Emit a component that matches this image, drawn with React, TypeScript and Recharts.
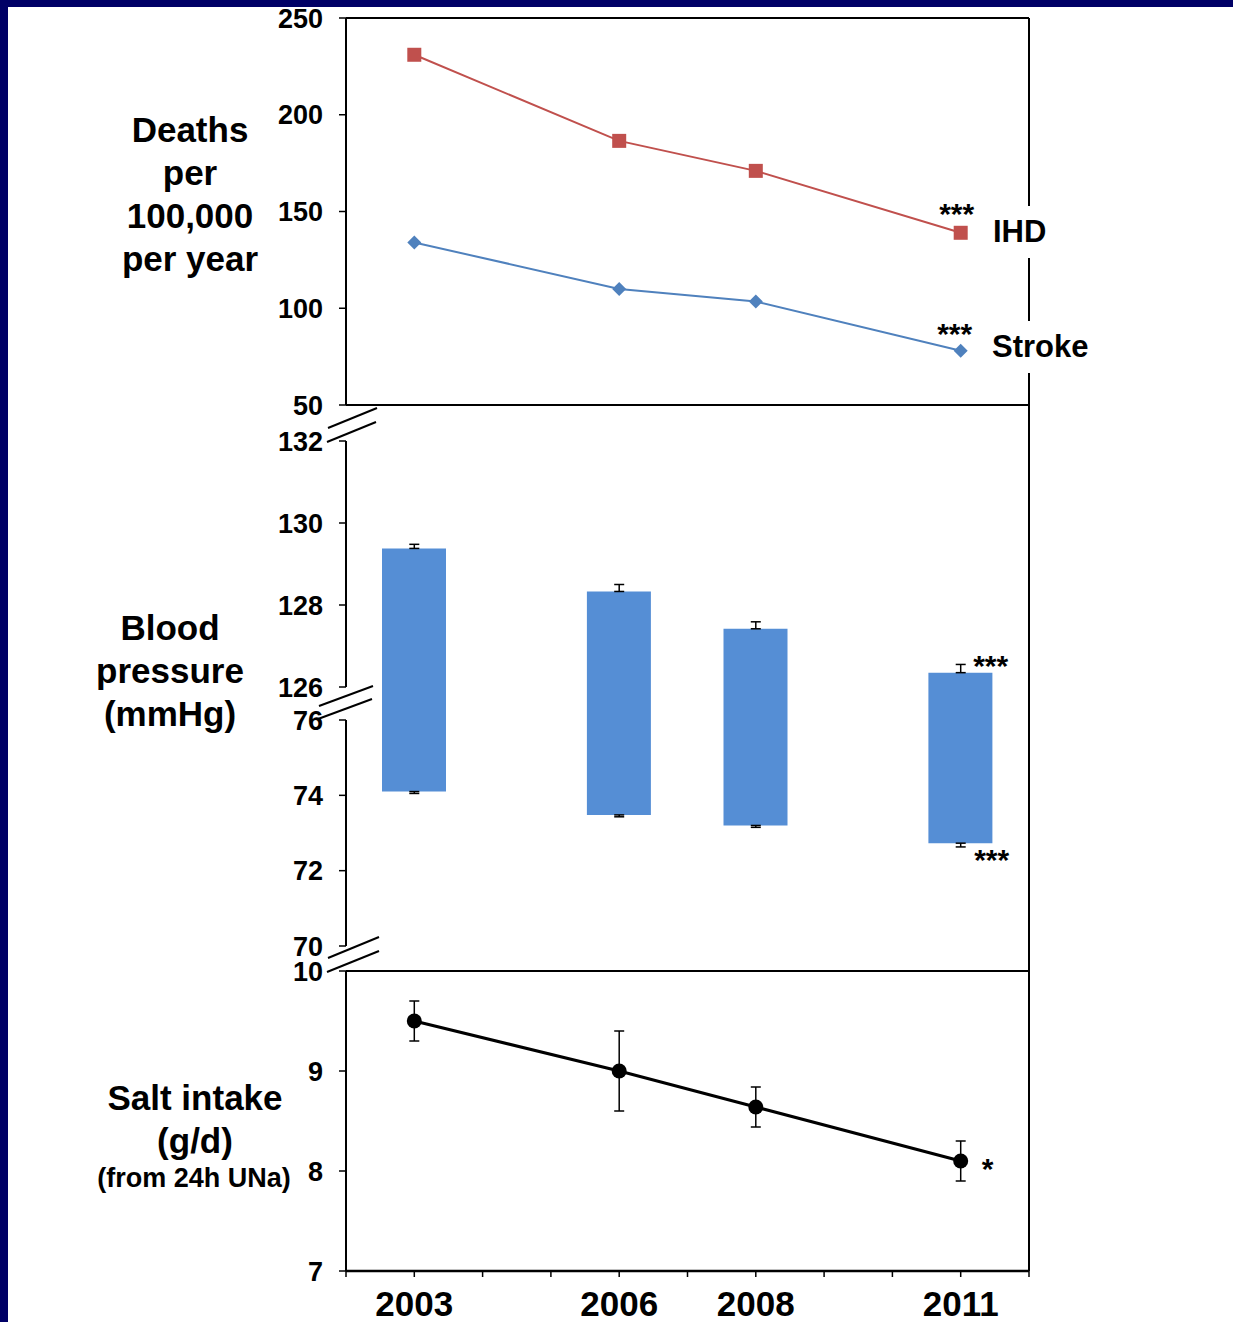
import React from 'react';
import {
  LineChart,
  Line,
  XAxis,
  YAxis,
  ReferenceLine,
  ComposedChart,
  Bar,
  ErrorBar,
  LabelList,
} from 'recharts';

const FONT = '"Liberation Sans", Arial, Helvetica, sans-serif';
const NAVY = '#000066';

// ---------- data ----------
const years = [2003, 2006, 2008, 2011];
const yearTicks = [2002, 2003, 2004, 2005, 2006, 2007, 2008, 2009, 2010, 2011, 2012];

const ihdDeaths = [231, 186.5, 171, 139];
const strokeDeaths = [134, 110, 103.5, 78];
const deathTicks = [50, 100, 150, 200, 250];
const sigDeaths = ['', '', '', '***'];

const systolicBP = [129.38, 128.33, 127.42, 126.35];
const systolicErr = [0.1, 0.17, 0.17, 0.2];
const diastolicBP = [74.1, 73.48, 73.2, 72.73];
const diastolicErr = [0.05, 0.05, 0.05, 0.1];
const bpTicks = [70, 72, 74, 76, 126, 128, 130, 132];
const sigBP = ['', '', '', '***'];

const saltIntake = [9.5, 9.0, 8.64, 8.1];
const saltErr = [0.2, 0.4, 0.2, 0.2];
const saltTicks = [7, 8, 9, 10];
const sigSalt = ['', '', '', '*'];

// ---------- broken BP axis mapping ----------
const BP_LOW_T0 = 25;
const BP_LOW_T1 = 251;
const BP_HIGH_T0 = 284;
const BP_HIGH_T1 = 530;
const bpScaleLow = (BP_LOW_T1 - BP_LOW_T0) / 6;
const bpScaleHigh = (BP_HIGH_T1 - BP_HIGH_T0) / 6;
const toT = (v: number) =>
  v >= 100 ? BP_HIGH_T0 + (v - 126) * bpScaleHigh : BP_LOW_T0 + (v - 70) * bpScaleLow;
const bpTickT = bpTicks.map(toT);
const bpTickLabel = (t: number) => {
  const i = bpTickT.findIndex((x) => Math.abs(x - t) < 0.01);
  return i >= 0 ? String(bpTicks[i]) : '';
};

const deathData = years.map((y, i) => ({
  year: y,
  ihd: ihdDeaths[i],
  stroke: strokeDeaths[i],
  sig: sigDeaths[i],
}));

const bpData = years.map((y, i) => ({
  year: y,
  range: [toT(diastolicBP[i]), toT(systolicBP[i])],
  sbpT: toT(systolicBP[i]),
  dbpT: toT(diastolicBP[i]),
  sbpErr: [0, systolicErr[i] * bpScaleHigh],
  dbpErr: [diastolicErr[i] * bpScaleLow, 0],
  sig: sigBP[i],
}));

const saltData = years.map((y, i) => ({
  year: y,
  salt: saltIntake[i],
  err: saltErr[i],
  sig: sigSalt[i],
}));

// ---------- helpers ----------
const tickStyle = { fill: '#000', fontSize: 27, fontWeight: 'bold' as const, fontFamily: FONT };

const sigLabel = (dx: number, dy: number) => (p: any) => {
  if (!p || !p.value) return null;
  return (
    <text
      x={Number(p.x) + dx}
      y={Number(p.y) + dy}
      textAnchor="middle"
      fontSize={30}
      fontWeight="bold"
      fontFamily={FONT}
      fill="#000"
    >
      {p.value}
    </text>
  );
};

const SquareDot = (props: any) => {
  const { cx, cy } = props;
  if (cx == null || cy == null) return null;
  return <rect x={cx - 7} y={cy - 7} width={14} height={14} fill="#C0504D" />;
};

const DiamondDot = (props: any) => {
  const { cx, cy } = props;
  if (cx == null || cy == null) return null;
  return (
    <polygon
      points={`${cx},${cy - 7} ${cx + 7},${cy} ${cx},${cy + 7} ${cx - 7},${cy}`}
      fill="#4F81BD"
    />
  );
};

const CircleDot = (props: any) => {
  const { cx, cy } = props;
  if (cx == null || cy == null) return null;
  return <circle cx={cx} cy={cy} r={7.5} fill="#000" />;
};

const W = 1233;
const RIGHT = 204;
const YW = 346;

const titleStyle: React.CSSProperties = {
  position: 'absolute',
  fontFamily: FONT,
  fontWeight: 'bold',
  fontSize: 35,
  lineHeight: '43px',
  textAlign: 'center',
  color: '#000',
  whiteSpace: 'nowrap',
};

const seriesLabelStyle: React.CSSProperties = {
  position: 'absolute',
  fontFamily: FONT,
  fontWeight: 'bold',
  fontSize: 31,
  height: 52,
  lineHeight: '52px',
  background: '#fff',
  color: '#000',
  padding: '0 6px',
  whiteSpace: 'nowrap',
};

export default function App() {
  return (
    <div
      style={{
        position: 'absolute',
        left: 0,
        top: 0,
        width: W,
        height: 1322,
        background: '#fff',
        overflow: 'hidden',
      }}
    >
      {/* Top chart: deaths */}
      <div style={{ position: 'absolute', left: 0, top: 0 }}>
        <LineChart width={W} height={420} data={deathData} margin={{ top: 18, right: RIGHT, bottom: 15, left: 0 }}>
          <XAxis dataKey="year" type="number" domain={[2002, 2012]} hide />
          <YAxis
            type="number"
            domain={[50, 250]}
            ticks={deathTicks}
            width={YW}
            tick={tickStyle}
            tickSize={7}
            tickMargin={16}
            tickLine={{ stroke: '#000', strokeWidth: 1.5 }}
            axisLine={{ stroke: '#000', strokeWidth: 2 }}
            interval={0}
          />
          <ReferenceLine y={250} stroke="#000" strokeWidth={2} />
          <ReferenceLine y={50} stroke="#000" strokeWidth={2} />
          <ReferenceLine x={2012} stroke="#000" strokeWidth={2} />
          <Line
            dataKey="ihd"
            stroke="#C0504D"
            strokeWidth={2}
            dot={<SquareDot />}
            isAnimationActive={false}
          >
            <LabelList dataKey="sig" content={sigLabel(-4, -9)} />
          </Line>
          <Line
            dataKey="stroke"
            stroke="#4F81BD"
            strokeWidth={2}
            dot={<DiamondDot />}
            isAnimationActive={false}
          >
            <LabelList dataKey="sig" content={sigLabel(-6, -7)} />
          </Line>
        </LineChart>
      </div>

      {/* Middle chart: blood pressure (broken axis) */}
      <div style={{ position: 'absolute', left: 0, top: 405 }}>
        <ComposedChart width={W} height={566} data={bpData} margin={{ top: 0, right: RIGHT, bottom: 0, left: 0 }}>
          <XAxis dataKey="year" type="number" domain={[2002, 2012]} hide />
          <YAxis
            type="number"
            domain={[0, 566]}
            ticks={bpTickT}
            tickFormatter={bpTickLabel}
            width={YW}
            tick={tickStyle}
            tickSize={7}
            tickMargin={16}
            tickLine={{ stroke: '#000', strokeWidth: 1.5 }}
            axisLine={false}
            interval={0}
            allowDataOverflow
          />
          <ReferenceLine
            segment={[
              { x: 2002, y: BP_HIGH_T0 },
              { x: 2002, y: BP_HIGH_T1 },
            ]}
            stroke="#000"
            strokeWidth={2}
          />
          <ReferenceLine
            segment={[
              { x: 2002, y: BP_LOW_T0 },
              { x: 2002, y: BP_LOW_T1 },
            ]}
            stroke="#000"
            strokeWidth={2}
          />
          <ReferenceLine x={2012} stroke="#000" strokeWidth={2} />
          <Bar dataKey="range" barSize={64} fill="#558ED5" isAnimationActive={false} />
          <Line dataKey="sbpT" stroke="none" dot={false} activeDot={false} isAnimationActive={false}>
            <ErrorBar dataKey="sbpErr" direction="y" width={5} stroke="#000" strokeWidth={1.5} />
            <LabelList dataKey="sig" content={sigLabel(30, 3)} />
          </Line>
          <Line dataKey="dbpT" stroke="none" dot={false} activeDot={false} isAnimationActive={false}>
            <ErrorBar dataKey="dbpErr" direction="y" width={5} stroke="#000" strokeWidth={1.5} />
            <LabelList dataKey="sig" content={sigLabel(31, 27)} />
          </Line>
        </ComposedChart>
      </div>

      {/* Bottom chart: salt intake */}
      <div style={{ position: 'absolute', left: 0, top: 951 }}>
        <ComposedChart width={W} height={371} data={saltData} margin={{ top: 20, right: RIGHT, bottom: 0, left: 0 }}>
          <XAxis
            dataKey="year"
            type="number"
            domain={[2002, 2012]}
            ticks={yearTicks}
            interval={0}
            height={51}
            tickFormatter={(v: number) => (years.includes(v) ? String(v) : '')}
            tick={{ fill: '#000', fontSize: 35, fontWeight: 'bold', fontFamily: FONT }}
            tickSize={6}
            tickMargin={14}
            tickLine={{ stroke: '#000', strokeWidth: 1.5 }}
            axisLine={{ stroke: '#000', strokeWidth: 2.5 }}
          />
          <YAxis
            type="number"
            domain={[7, 10]}
            ticks={saltTicks}
            width={YW}
            tick={tickStyle}
            tickSize={7}
            tickMargin={16}
            tickLine={{ stroke: '#000', strokeWidth: 1.5 }}
            axisLine={{ stroke: '#000', strokeWidth: 2 }}
            interval={0}
          />
          <ReferenceLine y={10} stroke="#000" strokeWidth={2} />
          <ReferenceLine x={2012} stroke="#000" strokeWidth={2} />
          <Line
            dataKey="salt"
            stroke="#000"
            strokeWidth={3}
            dot={<CircleDot />}
            activeDot={false}
            isAnimationActive={false}
          >
            <ErrorBar dataKey="err" direction="y" width={5} stroke="#000" strokeWidth={1.5} />
            <LabelList dataKey="sig" content={sigLabel(27, 18)} />
          </Line>
        </ComposedChart>
      </div>

      {/* axis break marks */}
      <svg
        width={W}
        height={1322}
        style={{ position: 'absolute', left: 0, top: 0, pointerEvents: 'none' }}
      >
        <g stroke="#000" strokeWidth={2}>
          <line x1={328} y1={428} x2={377} y2={408} />
          <line x1={327} y1={442} x2={376} y2={422} />
          <line x1={319} y1={706} x2={373} y2={686} />
          <line x1={318} y1={719} x2={372} y2={699} />
          <line x1={328} y1={958} x2={379} y2={937} />
          <line x1={327} y1={972} x2={379} y2={951} />
        </g>
      </svg>

      {/* series labels */}
      <div style={{ ...seriesLabelStyle, left: 987, top: 206 }}>IHD</div>
      <div style={{ ...seriesLabelStyle, left: 986, top: 321 }}>Stroke</div>

      {/* panel titles */}
      <div style={{ ...titleStyle, left: 40, width: 300, top: 108 }}>
        Deaths
        <br />
        per
        <br />
        100,000
        <br />
        per year
      </div>
      <div style={{ ...titleStyle, left: 20, width: 300, top: 606 }}>
        Blood
        <br />
        pressure
        <br />
        (mmHg)
      </div>
      <div style={{ ...titleStyle, left: 45, width: 300, top: 1076 }}>
        Salt intake
        <br />
        (g/d)
      </div>
      <div
        style={{
          ...titleStyle,
          left: 44,
          width: 300,
          top: 1162,
          fontSize: 27,
          lineHeight: '32px',
        }}
      >
        (from 24h UNa)
      </div>

      {/* navy frame */}
      <div style={{ position: 'absolute', left: 0, top: 0, width: W, height: 7, background: NAVY }} />
      <div style={{ position: 'absolute', left: 0, top: 0, width: 8, height: 1322, background: NAVY }} />
    </div>
  );
}
